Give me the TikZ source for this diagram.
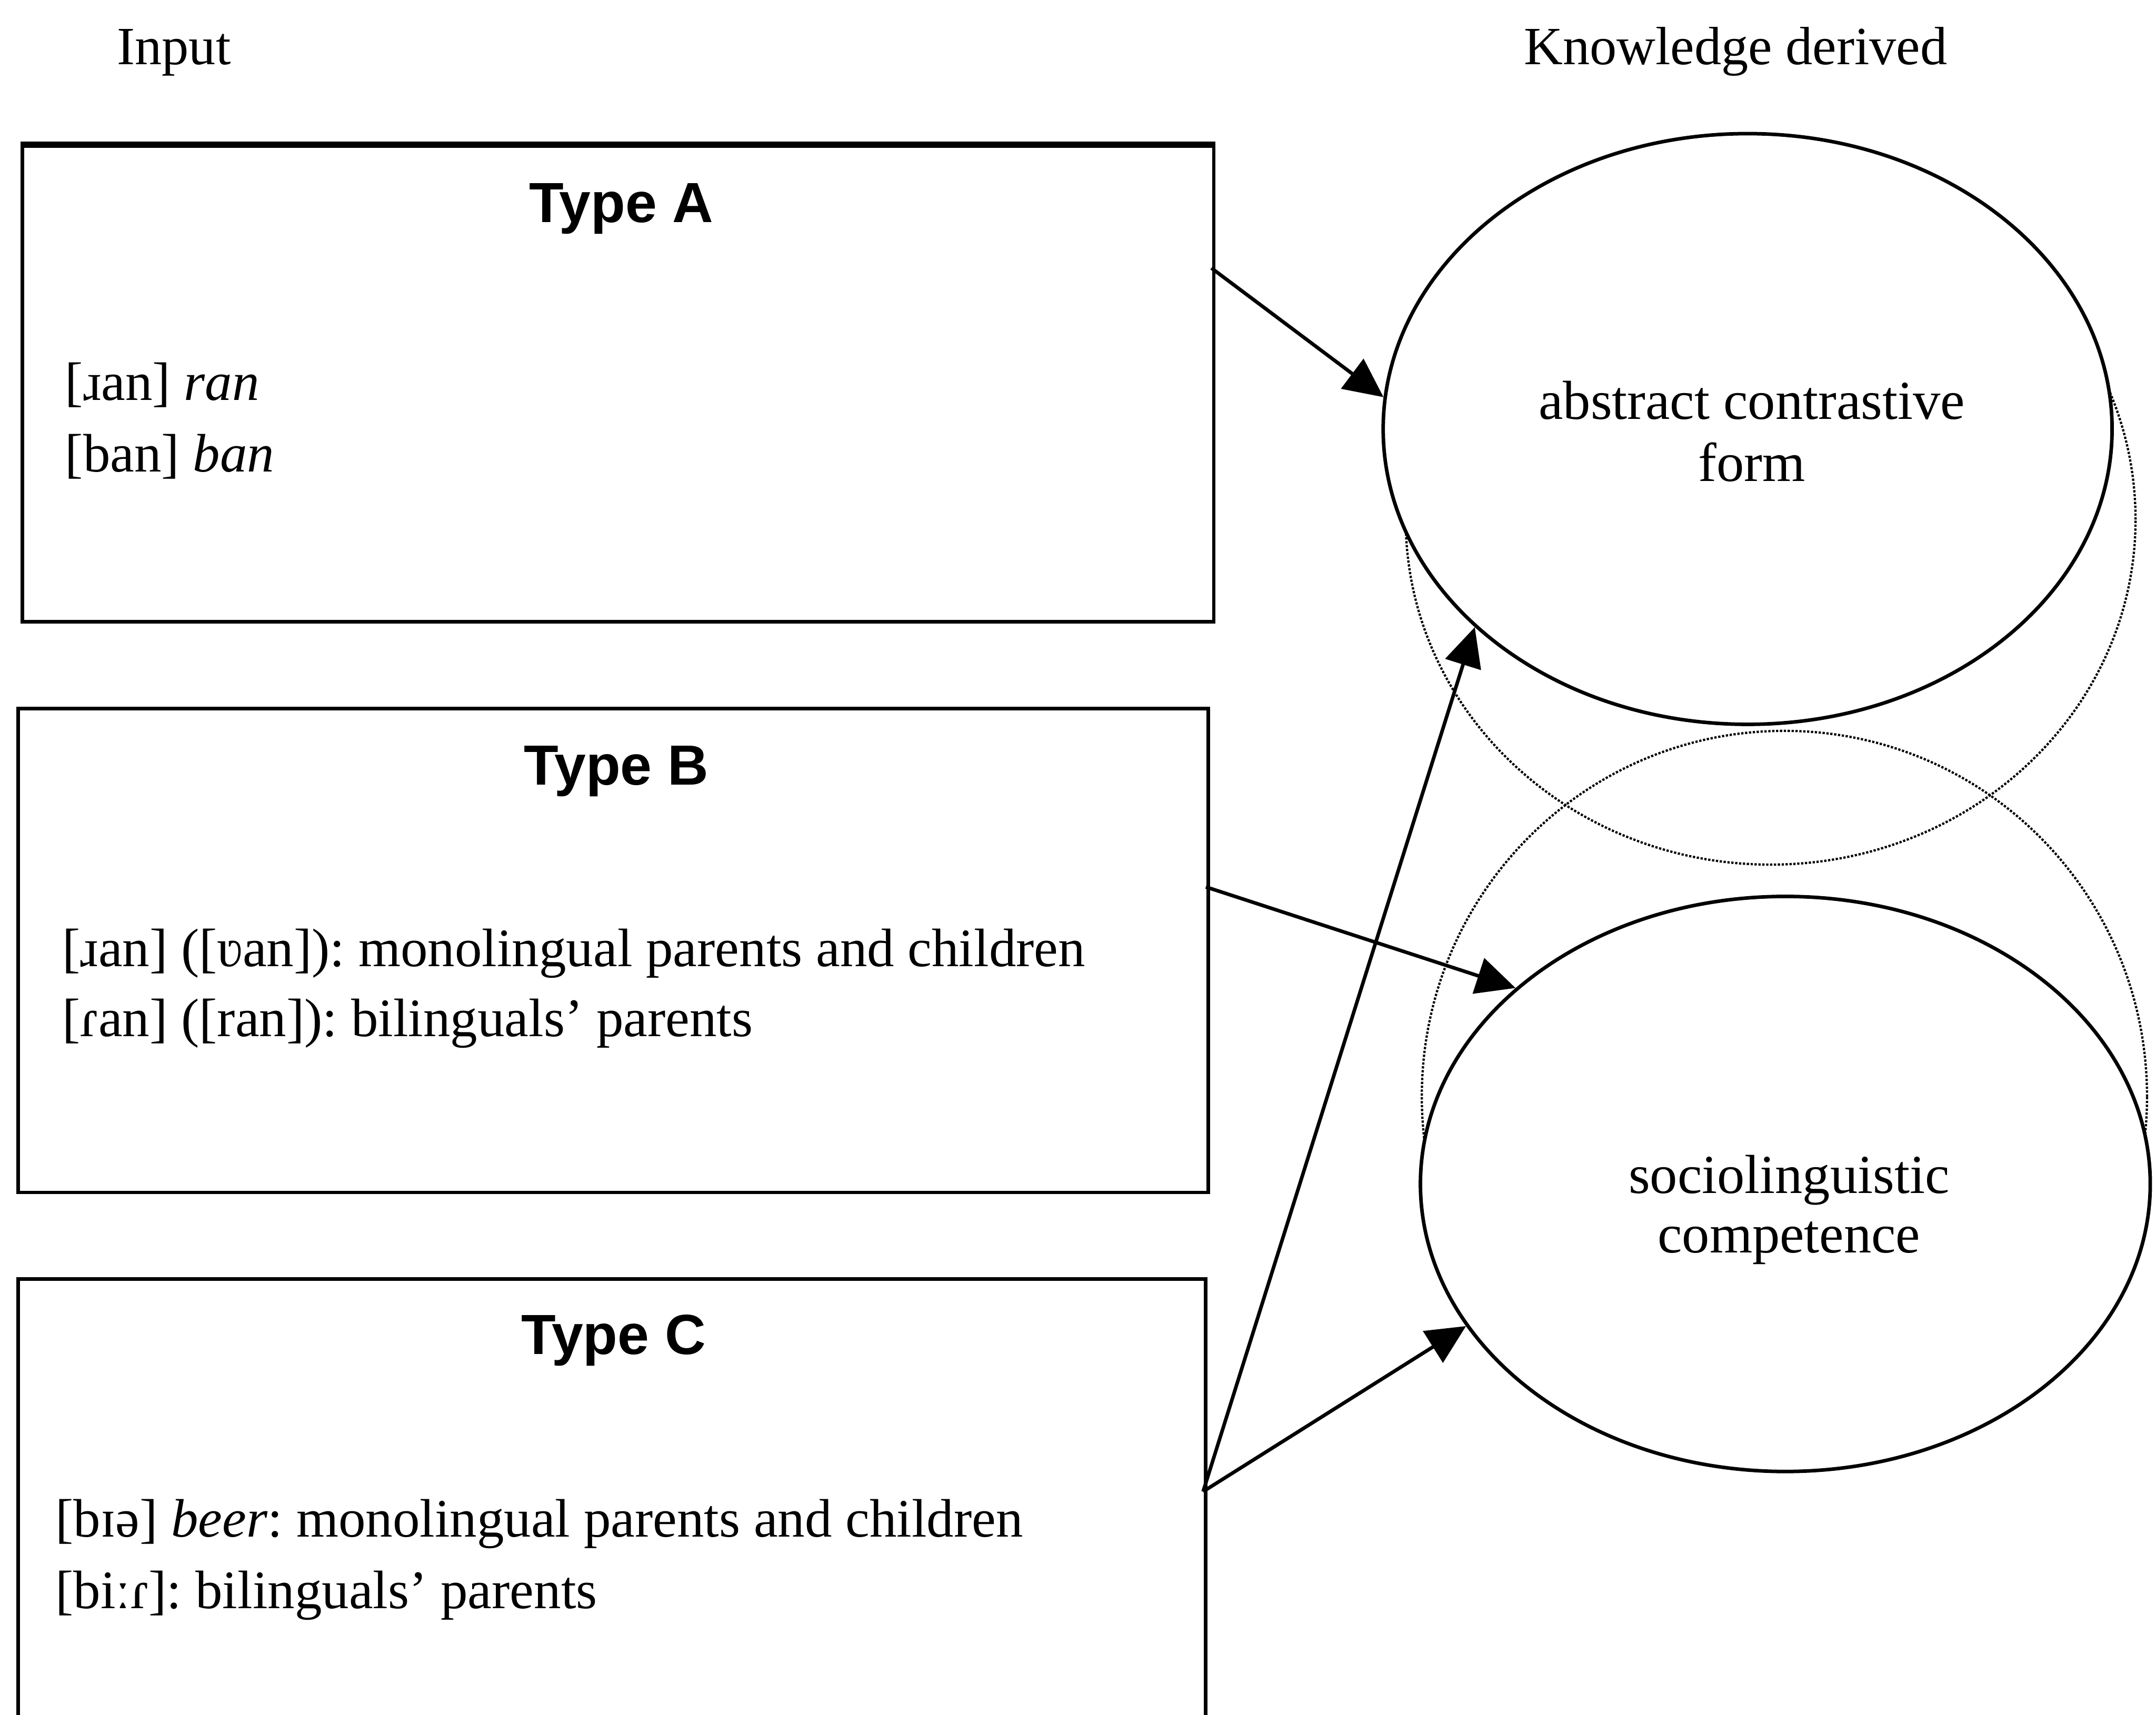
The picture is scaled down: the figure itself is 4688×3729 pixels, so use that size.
\documentclass[tikz,border=0pt]{standalone}
\usepackage{fontspec}
\setmainfont{Liberation Serif}
\newfontfamily\headfont{Liberation Sans}
\usetikzlibrary{arrows.meta,shapes.geometric,calc}
\frenchspacing

\begin{document}
\begin{tikzpicture}[x=0.01cm,y=-0.01cm,
    every node/.style={font=\fontsize{33.5}{40}\selectfont, inner sep=0pt},
    inbox/.style={draw, rectangle, line width=2.2pt, anchor=north west},
    typehead/.style={anchor=base, font=\headfont\bfseries\fontsize{35}{40}\selectfont},
    line/.style={anchor=base west},
    heading/.style={anchor=base west, font=\fontsize{33.3}{38}\selectfont},
    know/.style={draw, ellipse, line width=2.2pt, fill=white},
    ghost/.style={draw, ellipse, line width=1.4pt, densely dotted},
    etext/.style={anchor=base, font=\fontsize{34}{40}\selectfont},
    feed/.style={line width=2.2pt, -{Triangle[length=0.85cm,width=0.8cm]}}]

\useasboundingbox (0,0) rectangle (4688,3729);

% column headings
\node[heading] (hin) at (254,140) {Input};
\node[heading] (hout) at (3313,140) {Knowledge derived};

% input boxes
\node[inbox, minimum width=25.89cm, minimum height=10.34cm] (A) at (45,314) {};
\node[inbox, minimum width=25.86cm, minimum height=10.52cm] (B) at (36,1537) {};
\node[inbox, minimum width=25.80cm, minimum height=10.80cm] (C) at (36,2778) {};
\draw[line width=3.2pt] (A.north west) -- (A.north east);

\node[typehead] (tA) at (1351,484) {Type A};
\node[line] (a1) at (141,870) {[ɹan] \textit{ran}};
\node[line] (a2) at (141,1026) {[ban] \textit{ban}};

\node[typehead] (tB) at (1340,1707) {Type B};
\node[line] (b1) at (135,2102) {[ɹan] ([ʋan]): monolingual parents and children};
\node[line] (b2) at (135,2254) {[ɾan] ([ran]): bilinguals’ parents};

\node[typehead] (tC) at (1334,2945) {Type C};
\node[line] (c1) at (120,3343) {[bɪə] \textit{beer}: monolingual parents and children};
\node[line] (c2) at (120,3498) {[biːɾ]: bilinguals’ parents};

% dotted outlines behind the knowledge ellipses
\node[ghost, minimum width=15.86cm, minimum height=15.0cm] (G1) at (3850,1130) {};
\node[ghost, minimum width=15.76cm, minimum height=15.9cm] (G2) at (3880,2385) {};

% knowledge ellipses
\node[know, minimum width=15.84cm, minimum height=12.84cm] (K1) at (3800,933) {};
\node[know, minimum width=15.86cm, minimum height=12.50cm] (K2) at (3882,2575) {};
\node[etext] (k1a) at (3809,912) {abstract contrastive};
\node[etext] (k1b) at (3809,1047) {form};
\node[etext] (k2a) at (3890,2595) {sociolinguistic};
\node[etext] (k2b) at (3890,2724) {competence};

% connectors
\coordinate (sA) at (2634,583);
\coordinate (sB) at (2622,1929);
\coordinate (sC) at (2616,3244);
\draw[feed] (sA) -- (K1.175);
\draw[feed] (sB) -- (K2.144);
\draw[feed] (sC) -- (K1.216);
\draw[feed] (sC) -- (K2.204);

\end{tikzpicture}
\end{document}
